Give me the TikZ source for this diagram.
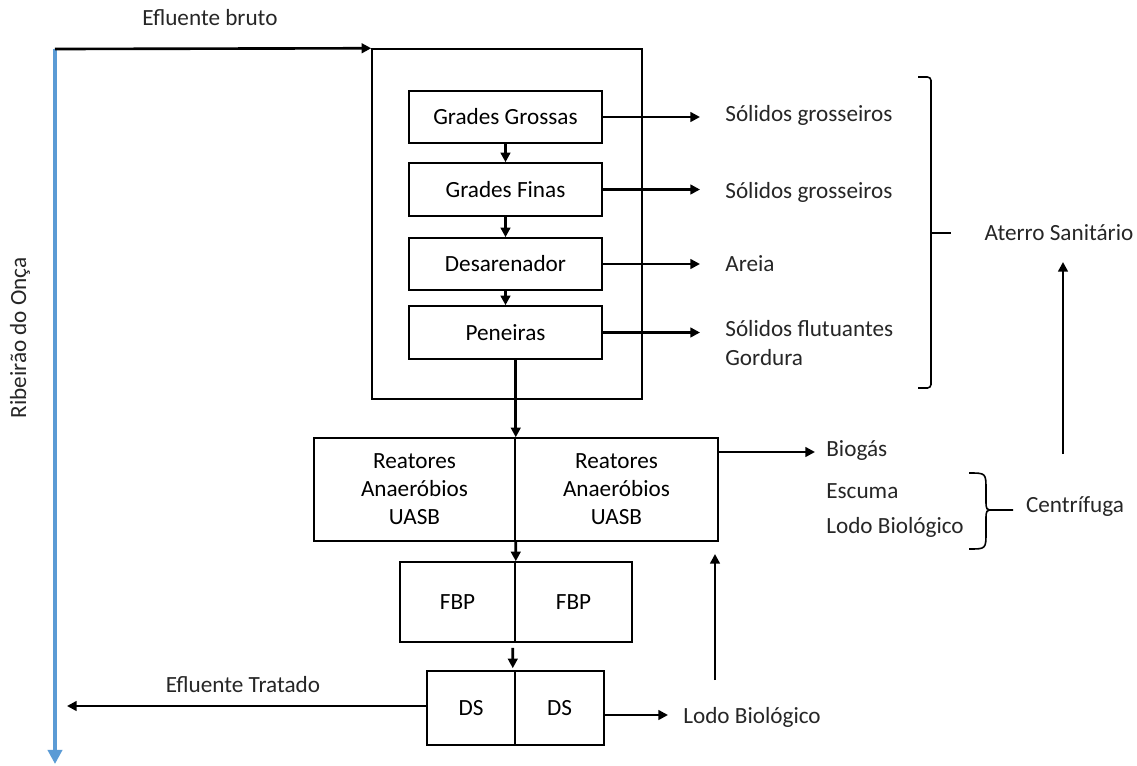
\documentclass[tikz,border=0pt]{standalone}
\usepackage{fontspec}
\setmainfont{Carlito}
\usetikzlibrary{arrows.meta,calc}
\definecolor{rioblue}{RGB}{91,155,213}
\tikzset{
  box/.style={draw, line width=0.9pt, inner sep=0pt, align=center},
  lbl/.style={inner sep=0pt, text=black!85},
  arr/.style={-{Triangle[length=5.5pt,width=5.5pt]}, line width=1.5pt},
  brk/.style={line width=0.9pt, rounded corners=2pt}
}
\begin{document}
\begin{tikzpicture}[x=0.02cm, y=-0.02cm, font=\fontsize{13.2}{16}\selectfont]
    \useasboundingbox (0,0) rectangle (1137,765);

    % pre-treatment
    \node[box, minimum width=5.4cm, minimum height=7cm] (pre) at (507,224) {};
    \node[box, minimum width=3.86cm, minimum height=1.04cm] (gg) at (505.5,117) {Grades Grossas};
    \node[box, minimum width=3.86cm, minimum height=1.06cm] (gf) at (505.5,189.5) {Grades Finas};
    \node[box, minimum width=3.86cm, minimum height=1.04cm] (des) at (505.5,264) {Desarenador};
    \node[box, minimum width=3.86cm, minimum height=1.06cm] (pen) at (505.5,332.5) {Peneiras};

    % reactors, filters, settlers
    \node[box, minimum width=4.02cm, minimum height=2.06cm] (reatL) at (414.5,489.5) {Reatores\\Anaeróbios\\UASB};
    \node[box, minimum width=4.06cm, minimum height=2.06cm] (reatR) at (616.5,489.5) {Reatores\\Anaeróbios\\UASB};
    \node[box, minimum width=2.3cm, minimum height=1.6cm] (fbpL) at (457.5,602) {FBP};
    \node[box, minimum width=2.34cm, minimum height=1.6cm] (fbpR) at (573.5,602) {FBP};
    \node[box, minimum width=1.76cm, minimum height=1.48cm] (dsL) at (471,708) {DS};
    \node[box, minimum width=1.78cm, minimum height=1.48cm] (dsR) at (559.5,708) {DS};

    % texts
    \node[lbl] (bruto) at (210,18) {Efluente bruto};
    \node[lbl, rotate=90] (rio) at (20,338) {Ribeirão do Onça};
    \node[lbl, anchor=west] (s1) at (725,115) {Sólidos grosseiros};
    \node[lbl, anchor=west] (s2) at (725,192) {Sólidos grosseiros};
    \node[lbl, anchor=west] (s3) at (725,264) {Areia};
    \node[lbl, anchor=west, align=left] (s4) at (725,343) {Sólidos flutuantes\\Gordura};
    \node[lbl] (aterro) at (1059,233) {Aterro Sanitário};
    \node[lbl, anchor=west] (biogas) at (826,451) {Biogás};
    \node[lbl, anchor=west] (escuma) at (826,491) {Escuma};
    \node[lbl, anchor=west] (lodo1) at (826,527) {Lodo Biológico};
    \node[lbl] (centr) at (1075,507) {Centrífuga};
    \node[lbl] (tratado) at (243,685) {Efluente Tratado};
    \node[lbl, anchor=west] (lodo2) at (683,717) {Lodo Biológico};

    \coordinate (in) at (55,49);
    \coordinate (out) at (55,764);
    \coordinate (s1a) at (700,114);
    \coordinate (s2a) at (700,191);
    \coordinate (s3a) at (700,265);
    \coordinate (s4a) at (700,332);
    \coordinate (bga) at (815,452);
    \coordinate (trata) at (67,706);
    \coordinate (lodoa) at (668,715);
    \coordinate (ret0) at (715,680);
    \coordinate (ret1) at (715,554);
    \coordinate (up0) at (1063,454);
    \coordinate (up1) at (1063,262);

    % river
    \draw[rioblue, line width=2pt, -{Triangle[length=8pt,width=8pt]}] (in) -- (out);
    \draw[arr] (in) -- (pre.north west);

    % flow
    \draw[arr] (gg) edge (gf) (gf) edge (des) (des) edge (pen);
    \draw[arr, line width=1.8pt] (pen.south -| reatL.north east) -- (reatL.north east);
    \draw[arr] (reatL.south east) -- (fbpL.north east);
    \draw[arr] ($(fbpL.south east)+(-3,5)$) -- ($(dsL.north east)+(-3,-2)$);
    \draw[arr] (gg.east) -- (gg.east -| s1a);
    \draw[arr] (gf.east) -- (gf.east -| s2a);
    \draw[arr] (des.east) -- (des.east -| s3a);
    \draw[arr] (pen.east) -- (pen.east -| s4a);
    \draw[arr] (reatR.east |- bga) -- (bga);
    \draw[arr] (dsL.west |- trata) -- (trata);
    \draw[arr] (dsR.east |- lodoa) -- (lodoa);
    \draw[arr] (ret0) -- (ret1);
    \draw[arr] (up0) -- (up1);

    % brackets
    \draw[brk] (918,77) -- (931,77) -- (931,388) -- (918,388);
    \draw[line width=0.9pt] (931,233) -- (951,233);
    \draw[line width=0.9pt] (969,473) .. controls (986,473) .. (986,490) -- (986,500)
        .. controls (986,510) .. (994,510) -- (1013,510);
    \draw[line width=0.9pt] (969,549) .. controls (986,549) .. (986,532) -- (986,520)
        .. controls (986,510) .. (994,510);
\end{tikzpicture}
\end{document}
